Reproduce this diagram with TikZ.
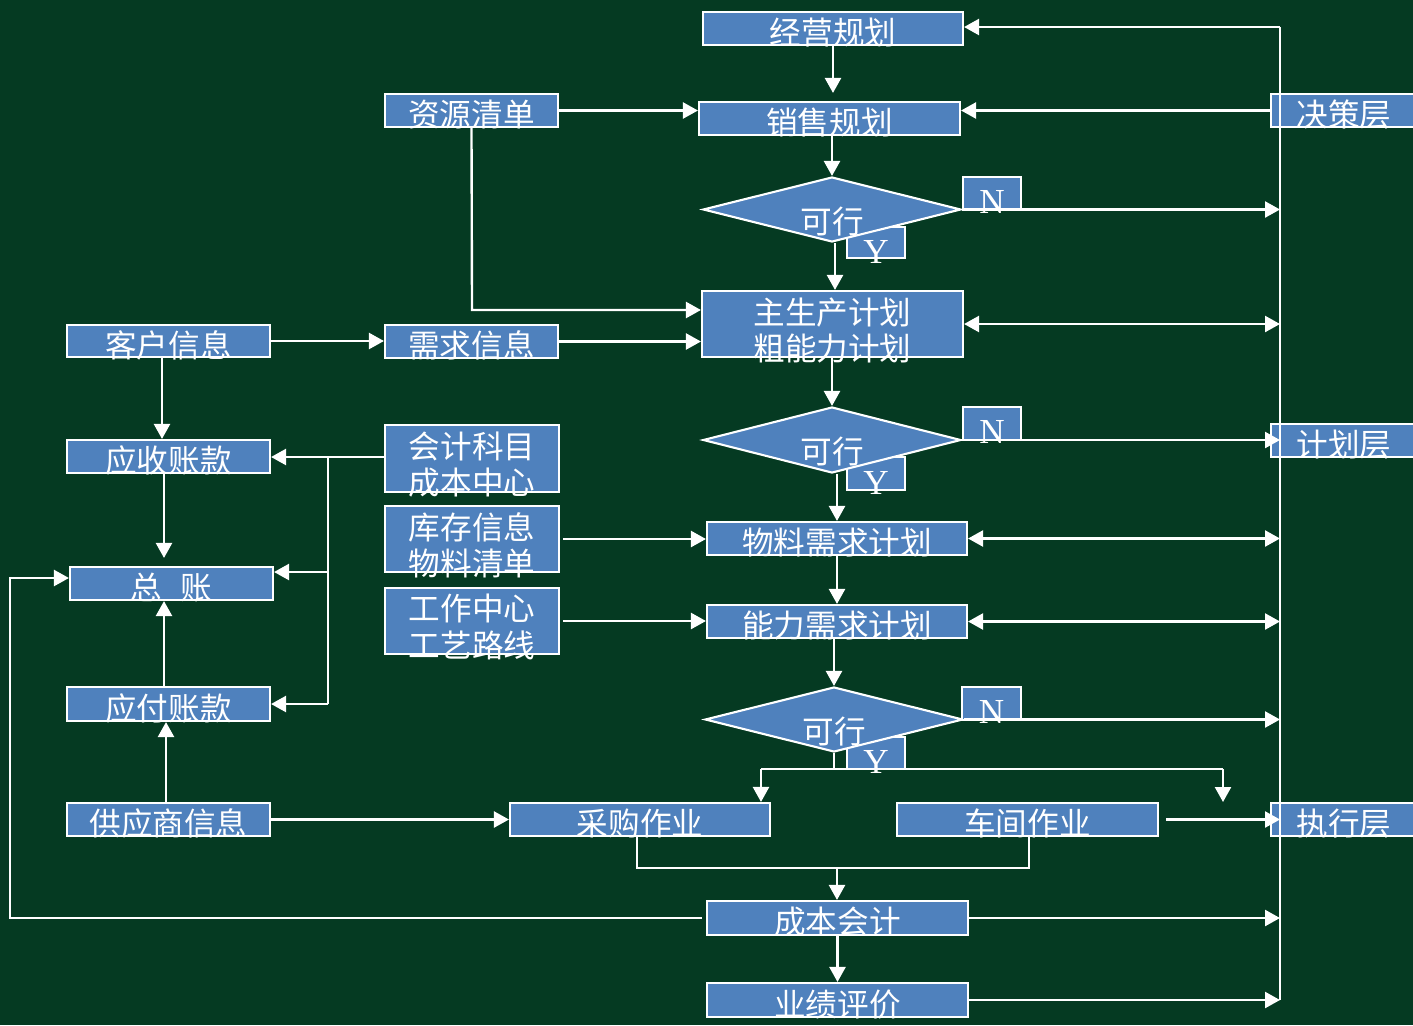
\documentclass[tikz,border=0pt]{standalone}
\usepackage{fontspec}
\newfontfamily\cjk{Noto Sans CJK SC}
\newfontfamily\lat{Liberation Serif}
\usetikzlibrary{arrows.meta,shapes.geometric}
\definecolor{bgc}{RGB}{5,58,34}
\definecolor{boxc}{RGB}{79,129,189}
\begin{document}
\begin{tikzpicture}[x=0.02cm,y=-0.02cm, line width=1.35pt,
 >={Triangle[length=0.3cm,width=0.32cm]},
 box/.style={draw=white,fill=boxc,line width=1.2pt,inner sep=0,rectangle},
 wh/.style 2 args={minimum width=#1*0.02cm,minimum height=#2*0.02cm},
 dia/.style={draw=white,fill=boxc,line width=1.2pt,diamond,inner sep=0},
 txt/.style={text=white,font=\cjk\fontsize{18}{20.7}\selectfont,inner sep=0,align=center},
 yn/.style={text=white,font=\lat\fontsize{20}{22}\selectfont,inner sep=0},
 con/.style={draw=white}]
\fill[bgc] (0,0) rectangle (1413,1025);
\useasboundingbox (0,0) rectangle (1413,1025);

% Y boxes (under diamonds)
\node[box,wh={58}{31}] (y1) at (876,242.5) {};
\node[box,wh={58}{33}] (y2) at (876,473.5) {};
\node[box,wh={58}{32}] (y3) at (876,753) {};
% diamonds
\node[dia,minimum width=258*0.02cm,minimum height=65*0.02cm] (d1) at (832,209.5) {};
\node[dia,minimum width=258*0.02cm,minimum height=66*0.02cm] (d2) at (832,440) {};
\node[dia,minimum width=258*0.02cm,minimum height=65*0.02cm] (d3) at (834,719.5) {};
% N boxes
\node[box,wh={58}{32}] (n1) at (992,193) {};
\node[box,wh={58}{33}] (n2) at (992,423.5) {};
\node[box,wh={59}{33}] (n3) at (991.5,703.5) {};

% boxes
\node[box,wh={260}{33}] (jy) at (833,28.5) {};
\node[box,wh={261}{33}] (xs) at (829.5,118.5) {};
\node[box,wh={173}{33}] (zy) at (471.5,110.5) {};
\node[box,wh={146}{33}] (jc) at (1344,110.5) {};
\node[box,wh={261}{66}] (mps) at (832.5,324) {};
\node[box,wh={203}{32}] (kh) at (168.5,341) {};
\node[box,wh={173}{33}] (xq) at (471.5,341.5) {};
\node[box,wh={203}{33}] (ys) at (168.5,456.5) {};
\node[box,wh={174}{67}] (kj) at (472,458.5) {};
\node[box,wh={146}{33}] (jh) at (1344,440.5) {};
\node[box,wh={174}{66}] (kc) at (472,539) {};
\node[box,wh={260}{33}] (mrp) at (837,538.5) {};
\node[box,wh={203}{33}] (zz) at (171.5,583.5) {};
\node[box,wh={174}{66}] (gz) at (472,621) {};
\node[box,wh={260}{33}] (crp) at (837,621.5) {};
\node[box,wh={203}{34}] (yf) at (168.5,704) {};
\node[box,wh={203}{33}] (gy) at (168.5,819.5) {};
\node[box,wh={260}{33}] (cg) at (640,819.5) {};
\node[box,wh={261}{33}] (cj) at (1027.5,819.5) {};
\node[box,wh={146}{33}] (zx) at (1344,819.5) {};
\node[box,wh={261}{34}] (cb) at (837.5,918) {};
\node[box,wh={261}{34}] (yj) at (837.5,1000) {};

% coordinates
\coordinate (busT) at (1280,27);
\coordinate (busB) at (1280,1000);
\coordinate (zyc) at (472,310);
\coordinate (lb1) at (328,457);
\coordinate (lb2) at (328,704);
\coordinate (lb3) at (328,572);
\coordinate (brL) at (761,769);
\coordinate (brR) at (1223,769);
\coordinate (brE) at (1223,802);
\coordinate (mj) at (837,868);
\coordinate (lc) at (10,918);
\coordinate (lc2) at (10,578);

% right bus and connectors
\draw[con] (busT) -- (busB);
\draw[con,->] (busT) -- (busT -| jy.east);
\draw[con,->] (jc.west) -- (jc.west -| xs.east);
\draw[con,->] (d1.east) -- (d1.east -| busT);
\draw[con,<->] (mps.east) -- (mps.east -| busT);
\draw[con,->] (d2.east) -- (d2.east -| busT);
\draw[con,<->] (mrp.east) -- (mrp.east -| busT);
\draw[con,<->] (crp.east) -- (crp.east -| busT);
\draw[con,->] (d3.east) -- (d3.east -| busT);
\draw[con,->] ([xshift=0.14cm]cj.east) -- (cj.east -| busT);
\draw[con,->] (cb.east) -- (cb.east -| busT);
\draw[con,->] (yj.east) -- (yj.east -| busT);

% central column
\draw[con,->,shorten >=0.16cm] (jy.south) -- (jy.south |- xs.north);
\draw[con,->] (d1.north |- xs.south) -- (d1.north);
\draw[con,->] ([xshift=0.06cm]d1.south) -- ([xshift=0.06cm]d1.south |- mps.north);
\draw[con,->] (d2.north |- mps.south) -- (d2.north);
\draw[con,->] (mrp.north |- d2.south) -- (mrp.north);
\draw[con,->] (mrp.south) -- (crp.north);
\draw[con,->] (d3.north |- crp.south) -- (d3.north);
\draw[con] (d3.south) -- (d3.south |- brL);
\draw[con] (brL) -- (brR);
\draw[con,->] (brL) -- (brL |- cg.north);
\draw[con,->] (brR) -- (brE);
\draw[con] ([xshift=-0.06cm]cg.south) -- ([xshift=-0.06cm]cg.south |- mj) -- ([xshift=0.03cm]cj.south |- mj) -- ([xshift=0.03cm]cj.south);
\draw[con,->] (mj) -- (mj |- cb.north);
\draw[con,->] (cb.south) -- (yj.north);

% left part
\draw[con,->] (zy.east) -- (zy.east -| xs.west);
\draw[con,->] (zy.south) -- (zyc) -- (zyc -| mps.west);
\draw[con,->] (kh.east) -- (kh.east -| xq.west);
\draw[con,->] (xq.east) -- (xq.east -| mps.west);
\draw[con,->] ([xshift=-0.13cm]kh.south) -- ([xshift=-0.13cm]kh.south |- ys.north);
\draw[con,->,shorten >=0.16cm] ([xshift=-0.09cm]ys.south) -- ([xshift=-0.09cm]ys.south |- zz.north);
\draw[con,->] (kj.west |- lb1) -- (lb1 -| ys.east);
\draw[con] (lb1) -- (lb2);
\draw[con,->] (lb3) -- (lb3 -| zz.east);
\draw[con,->] (lb2) -- (lb2 -| yf.east);
\draw[con,->] ([xshift=-0.09cm]yf.north) -- ([xshift=-0.09cm]yf.north |- zz.south);
\draw[con,->] ([xshift=-0.05cm]gy.north) -- ([xshift=-0.05cm]gy.north |- yf.south);
\draw[con,->] (gy.east) -- (gy.east -| cg.west);
\draw[con,->] ([xshift=0.06cm]kc.east) -- (kc.east -| mrp.west);
\draw[con,->] ([xshift=0.06cm]gz.east) -- (gz.east -| crp.west);
\draw[con,->] ([xshift=-0.08cm]cb.west) -- (cb.west -| lc) -- (lc2) -- (lc2 -| zz.west);

% texts
\node[txt] (jyt) at ([yshift=-0.08cm]jy) {经营规划};
\node[txt] (xst) at ([yshift=-0.08cm]xs) {销售规划};
\node[txt] (zyt) at ([yshift=-0.08cm]zy) {资源清单};
\node[txt] (jct) at ([yshift=-0.08cm]jc) {决策层};
\node[txt] (mpst) at ([yshift=-0.13cm]mps) {主生产计划\\粗能力计划};
\node[txt] (kht) at ([yshift=-0.08cm]kh) {客户信息};
\node[txt] (xqt) at ([yshift=-0.08cm]xq) {需求信息};
\node[txt] (yst) at ([yshift=-0.08cm]ys) {应收账款};
\node[txt] (kjt) at ([yshift=-0.12cm]kj) {会计科目\\成本中心};
\node[txt] (jht) at ([yshift=-0.08cm]jh) {计划层};
\node[txt] (kct) at ([yshift=-0.12cm]kc) {库存信息\\物料清单};
\node[txt] (mrpt) at ([yshift=-0.08cm]mrp) {物料需求计划};
\node[txt] (zzt) at ([yshift=-0.08cm]zz) {总\hspace{0.6em}账};
\node[txt] (gzt) at ([yshift=-0.12cm]gz) {工作中心\\工艺路线};
\node[txt] (crpt) at ([yshift=-0.08cm]crp) {能力需求计划};
\node[txt] (yft) at ([yshift=-0.08cm]yf) {应付账款};
\node[txt] (gyt) at ([yshift=-0.08cm]gy) {供应商信息};
\node[txt] (cgt) at ([yshift=-0.08cm]cg) {采购作业};
\node[txt] (cjt) at ([yshift=-0.08cm]cj) {车间作业};
\node[txt] (zxt) at ([yshift=-0.08cm]zx) {执行层};
\node[txt] (cbt) at ([yshift=-0.08cm]cb) {成本会计};
\node[txt] (yjt) at ([yshift=-0.1cm]yj) {业绩评价};
\node[txt] (d1t) at ([yshift=-0.24cm]d1) {可行};
\node[txt] (d2t) at ([yshift=-0.24cm]d2) {可行};
\node[txt] (d3t) at ([yshift=-0.24cm]d3) {可行};
\node[yn] (n1t) at ([yshift=-0.17cm]n1) {N};
\node[yn] (n2t) at ([yshift=-0.17cm]n2) {N};
\node[yn] (n3t) at ([yshift=-0.17cm]n3) {N};
\node[yn] (y1t) at ([yshift=-0.18cm]y1) {Y};
\node[yn] (y2t) at ([yshift=-0.18cm]y2) {Y};
\node[yn] (y3t) at ([yshift=-0.18cm]y3) {Y};
\end{tikzpicture}
\end{document}
